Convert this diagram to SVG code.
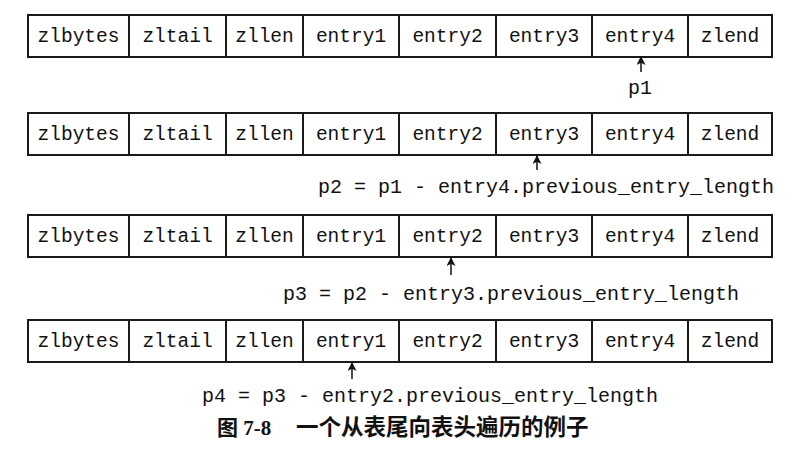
<svg xmlns="http://www.w3.org/2000/svg" width="797" height="460" viewBox="0 0 797 460">
<style>
.cell{fill:#fff;stroke:#1a1a1a;stroke-width:2}
.t{font-family:"Liberation Mono","DejaVu Sans Mono",monospace;font-size:19.5px;fill:#111;text-anchor:middle}
.lbl{font-family:"Liberation Mono","DejaVu Sans Mono",monospace;font-size:20px;fill:#111}
.cap{font-family:"Liberation Serif","Noto Sans CJK SC",serif;font-size:21px;font-weight:bold;fill:#111}
.capz{font-family:"Noto Sans CJK SC",sans-serif;font-size:22.5px;font-weight:bold;fill:#111}
.arr{stroke:#111;stroke-width:1.5;fill:none}
</style>
<defs>
<marker id="ah" viewBox="0 0 10 10" refX="9" refY="5" markerWidth="10" markerHeight="9" markerUnits="userSpaceOnUse" orient="auto">
<path d="M0,0 L10,5 L0,10 L2.5,5 Z" fill="#111"/>
</marker>
<g id="row">
<rect class="cell" x="28" y="0" width="101" height="42"/>
<rect class="cell" x="129" y="0" width="97" height="42"/>
<rect class="cell" x="226" y="0" width="77" height="42"/>
<rect class="cell" x="303" y="0" width="96" height="42"/>
<rect class="cell" x="399" y="0" width="97" height="42"/>
<rect class="cell" x="496" y="0" width="96" height="42"/>
<rect class="cell" x="592" y="0" width="96" height="42"/>
<rect class="cell" x="688" y="0" width="84" height="42"/>
<text class="t" x="78.5" y="27">zlbytes</text>
<text class="t" x="177.5" y="27">zltail</text>
<text class="t" x="264.5" y="27">zllen</text>
<text class="t" x="351" y="27">entry1</text>
<text class="t" x="447.5" y="27">entry2</text>
<text class="t" x="544" y="27">entry3</text>
<text class="t" x="640" y="27">entry4</text>
<text class="t" x="730" y="27">zlend</text>
</g>
</defs>
<g id="ziplist1"><use href="#row" x="0" y="15"/></g>
<g id="ziplist2"><use href="#row" x="0" y="113"/></g>
<g id="ziplist3"><use href="#row" x="0" y="215"/></g>
<g id="ziplist4"><use href="#row" x="0" y="320"/></g>
<g id="connectors">
<line class="arr" x1="641" y1="72" x2="641" y2="57" marker-end="url(#ah)"/>
<line class="arr" x1="537" y1="170" x2="537" y2="156" marker-end="url(#ah)"/>
<line class="arr" x1="451" y1="275" x2="451" y2="258" marker-end="url(#ah)"/>
<line class="arr" x1="352" y1="379" x2="352" y2="363" marker-end="url(#ah)"/>
</g>
<g id="labels">
<text class="lbl" x="640" y="94" text-anchor="middle">p1</text>
<text class="lbl" x="318" y="193">p2 = p1 - entry4.previous_entry_length</text>
<text class="lbl" x="283" y="300">p3 = p2 - entry3.previous_entry_length</text>
<text class="lbl" x="202" y="402">p4 = p3 - entry2.previous_entry_length</text>
</g>
<g id="caption">
<text class="cap" x="217" y="435">图 7-8</text>
<text class="capz" x="296" y="435">一个从表尾向表头遍历的例子</text>
</g>
</svg>
